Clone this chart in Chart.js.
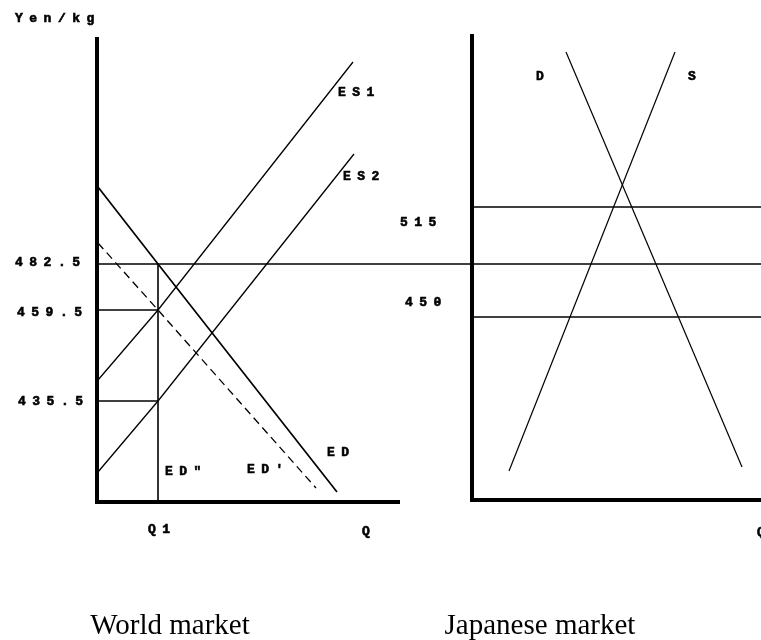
<!DOCTYPE html>
<html>
<head>
<meta charset="utf-8">
<script src="https://cdn.jsdelivr.net/npm/chart.js@4/dist/chart.umd.min.js"></script>
<style>
  html, body { margin: 0; padding: 0; background: #fff; }
  #wrap { position: relative; width: 761px; height: 640px; }
</style>
</head>
<body>
<div id="wrap"><canvas id="markets" width="761" height="640"></canvas></div>
<script>
// diagram units: origin at the world market's axis corner, x right, y up
const priceTicks = ["482.5", "459.5", "435.5"];
const priceLevels = [238, 192, 101];
const japanTicks = ["515", "450"];
const japanLevels = [295, 185];
const q1 = 61;

// world market curves
const edX = [1, q1, 240];
const edY = [315, priceLevels[0], 10];
const edPrimeX = [1, q1, 219];
const edPrimeY = [259, priceLevels[1], 14];
const es1X = [1, q1, 256];
const es1Y = [122, priceLevels[1], 440];
const es2X = [1, q1, 257];
const es2Y = [30, priceLevels[2], 348];

// japanese market curves
const demandX = [469, 645];
const demandY = [450, 35];
const supplyX = [578, 412];
const supplyY = [450, 31];

// axes frames
const worldAxisEnd = 303;
const worldAxisTop = 465;
const japanAxisX = 375;
const japanAxisTop = 468;
const japanAxisY = 2;
const rightEdge = 664;

function pts(xs, ys) {
  return xs.map((x, i) => ({ x: x, y: ys[i] }));
}

function line(data, width, dash) {
  return {
    data: data,
    showLine: true,
    borderColor: "#000",
    borderWidth: width,
    borderDash: dash || [],
    pointRadius: 0,
    fill: false,
    tension: 0,
  };
}

const datasets = [
  // axes
  line([{ x: 0, y: 0 }, { x: 0, y: worldAxisTop }], 4),
  line([{ x: -2, y: 0 }, { x: worldAxisEnd, y: 0 }], 4),
  line([{ x: japanAxisX, y: japanAxisY }, { x: japanAxisX, y: japanAxisTop }], 4),
  line([{ x: japanAxisX - 2, y: japanAxisY }, { x: rightEdge, y: japanAxisY }], 4),
  // price levels
  line([{ x: 0, y: priceLevels[0] }, { x: rightEdge, y: priceLevels[0] }], 1.5),
  line([{ x: 0, y: priceLevels[1] }, { x: q1, y: priceLevels[1] }], 1.5),
  line([{ x: 0, y: priceLevels[2] }, { x: q1, y: priceLevels[2] }], 1.5),
  line([{ x: japanAxisX, y: japanLevels[0] }, { x: rightEdge, y: japanLevels[0] }], 1.4),
  line([{ x: japanAxisX, y: japanLevels[1] }, { x: rightEdge, y: japanLevels[1] }], 1.4),
  line([{ x: q1, y: 0 }, { x: q1, y: priceLevels[0] }], 1.6),
  // curves
  line(pts(edX, edY), 1.7),
  line(pts(edPrimeX, edPrimeY), 1.3, [8, 5]),
  line(pts(es1X, es1Y), 1.3),
  line(pts(es2X, es2Y), 1.3),
  line(pts(demandX, demandY), 1.2),
  line(pts(supplyX, supplyY), 1.2),
];

// text placed in diagram units (left edge, vertical centre)
const monoLabels = [
  { text: "Yen/kg", x: -82, y: 483 },
  { text: priceTicks[0], x: -82, y: 239 },
  { text: priceTicks[1], x: -80, y: 189 },
  { text: priceTicks[2], x: -79, y: 100 },
  { text: "ES1", x: 241, y: 409 },
  { text: "ES2", x: 246, y: 325 },
  { text: "ED", x: 230, y: 49 },
  { text: "ED'", x: 150, y: 32 },
  { text: 'ED"', x: 68, y: 30 },
  { text: "Q1", x: 51, y: -28 },
  { text: "Q", x: 265, y: -30 },
  { text: japanTicks[0], x: 303, y: 279 },
  { text: japanTicks[1], x: 308, y: 199 },
  { text: "D", x: 439, y: 425 },
  { text: "S", x: 591, y: 425 },
  { text: "Q", x: 660, y: -31 },
];
const titles = [
  { text: "World market", x: 73, y: -132 },
  { text: "Japanese market", x: 443, y: -132 },
];

const labelPlugin = {
  id: "diagramLabels",
  afterDatasetsDraw(chart) {
    const ctx = chart.ctx;
    const sx = chart.scales.x;
    const sy = chart.scales.y;
    ctx.save();
    ctx.fillStyle = "#000";
    ctx.strokeStyle = "#000";
    ctx.lineWidth = 0.6;
    ctx.font = 'bold 13px "Liberation Mono", "DejaVu Sans Mono", monospace';
    ctx.textAlign = "left";
    ctx.textBaseline = "middle";
    if ("letterSpacing" in ctx) ctx.letterSpacing = "6.5px";
    monoLabels.forEach((l) => {
      const px = sx.getPixelForValue(l.x);
      const py = sy.getPixelForValue(l.y);
      ctx.fillText(l.text, px, py);
      ctx.strokeText(l.text, px, py);
    });
    if ("letterSpacing" in ctx) ctx.letterSpacing = "0px";
    ctx.font = '29px "Liberation Serif", "Times New Roman", serif';
    ctx.textAlign = "center";
    ctx.textBaseline = "alphabetic";
    titles.forEach((t) => {
      ctx.fillText(t.text, sx.getPixelForValue(t.x), sy.getPixelForValue(t.y));
    });
    ctx.restore();
  },
};

new Chart(document.getElementById("markets").getContext("2d"), {
  type: "scatter",
  data: { datasets: datasets },
  options: {
    responsive: false,
    animation: false,
    layout: { padding: 0 },
    plugins: { legend: { display: false }, tooltip: { enabled: false } },
    scales: {
      x: { type: "linear", min: -97, max: 664, display: false },
      y: { type: "linear", min: -138, max: 502, display: false },
    },
  },
  plugins: [labelPlugin],
});
</script>
</body>
</html>
